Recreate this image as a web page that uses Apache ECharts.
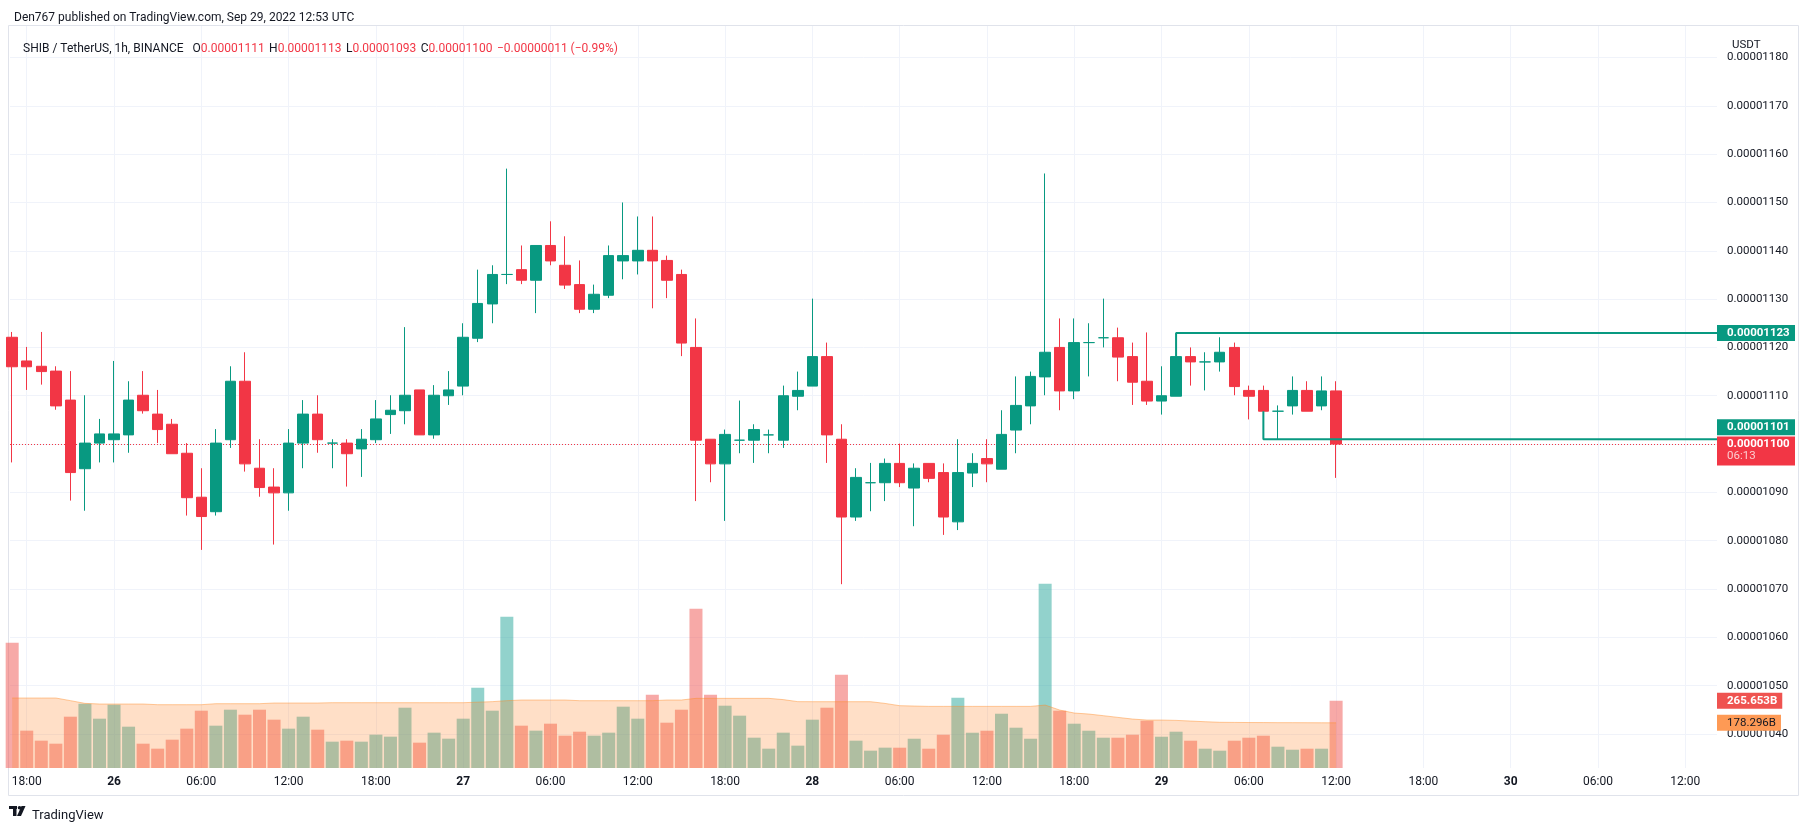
<!DOCTYPE html>
<html>
<head>
<meta charset="utf-8">
<script src="https://cdn.jsdelivr.net/npm/echarts@6/dist/echarts.min.js"></script>
<style>
html,body{margin:0;padding:0;background:#ffffff;}
#c{width:1809px;height:831px;}
</style>
</head>
<body>
<div id="c"></div>
<script>
// Prices are stored in units of 1e-8 USDT (1122.1 => 0.00001122)
const PRICE_UNIT = 1e-8;
// hour offsets are counted from Sep 25 18:00 UTC; first candle is Sep 25 17:00
const firstHour = -1;

const opens = [1122.1,1117.2,1116.1,1115.1,1109.1,1094.9,1100.2,1100.9,1101.9,1110.1,1106.2,1104.1,1098.1,1089.0,1086.0,1100.9,1113.0,1095.0,1091.1,1089.9,1100.2,1106.2,1100.2,1100.2,1099.0,1100.9,1106.1,1106.9,1111.2,1101.9,1110.0,
1112.0,1121.9,1129.0,1135.1,1136.1,1133.9,1141.1,1137.0,1133.0,1127.9,1130.8,1137.9,1137.9,1140.1,1138.0,1135.1,1120.0,1101.0,1095.9,1100.8,1100.8,1101.9,1100.8,1109.9,1112.0,1118.1,1101.0,1084.9,1092.0,1092.0,
1096.0,1090.9,1096.0,1094.1,1083.9,1094.0,1097.0,1094.8,1102.9,1107.9,1113.9,1120.0,1111.0,1121.0,1122.0,1122.0,1118.1,1113.0,1108.9,1109.9,1118.1,1117.0,1117.0,1120.0,1111.1,1111.1,1106.8,1107.9,1111.1,1107.9,1111.0];
const closes = [1116.0,1116.0,1115.0,1107.9,1094.1,1100.2,1102.1,1102.1,1109.1,1106.9,1103.0,1098.0,1088.9,1085.0,1100.2,1113.0,1095.9,1091.0,1089.9,1100.2,1106.2,1100.9,1100.2,1098.0,1101.0,1105.2,1107.0,1110.1,1101.9,1110.1,1111.2,
1122.1,1129.1,1135.1,1135.1,1133.9,1141.1,1137.9,1132.9,1127.9,1131.0,1139.0,1139.0,1140.1,1137.9,1133.9,1120.9,1100.8,1095.9,1102.0,1100.8,1103.0,1101.9,1110.0,1111.1,1118.1,1101.9,1084.9,1093.1,1092.0,1096.0,
1092.0,1095.0,1092.9,1084.9,1094.1,1096.0,1095.9,1102.0,1108.0,1114.0,1119.0,1111.0,1121.0,1121.0,1122.0,1118.0,1112.8,1108.9,1110.0,1118.1,1117.0,1117.0,1119.0,1111.9,1109.9,1106.8,1106.8,1111.1,1106.8,1111.0,1100.0];
const lows = [1096.2,1111.2,1112.3,1107.1,1088.3,1086.2,1096.2,1096.2,1098.2,1106.3,1100.2,1098.0,1085.2,1078.1,1085.2,1099.2,1094.3,1089.1,1079.2,1086.2,1095.0,1098.2,1095.0,1091.2,1093.2,1100.2,1102.1,1104.1,1101.9,1101.1,1108.1,
1110.1,1121.1,1125.0,1133.1,1133.1,1127.1,1137.0,1132.1,1127.1,1127.1,1130.2,1134.1,1135.1,1128.1,1130.2,1118.2,1088.2,1092.1,1084.1,1098.1,1096.1,1098.1,1099.2,1107.0,1112.0,1096.1,1071.0,1084.1,1086.1,1088.2,
1091.1,1083.0,1092.1,1081.2,1082.2,1091.1,1092.1,1094.8,1098.1,1104.1,1110.1,1107.0,1109.3,1114.0,1120.0,1113.0,1108.1,1108.1,1106.1,1109.9,1112.1,1111.1,1115.0,1110.1,1105.1,1106.5,1101.0,1106.1,1106.8,1107.0,1093.0];
const highs = [1123.2,1120.1,1123.2,1116.1,1115.1,1110.1,1105.2,1117.2,1113.0,1115.1,1111.2,1105.2,1100.2,1095.0,1103.1,1116.1,1119.0,1101.0,1095.0,1103.1,1109.1,1110.1,1101.0,1101.0,1103.1,1109.1,1110.1,1124.2,1111.2,1112.2,1115.1,
1125.0,1136.1,1137.0,1157.0,1141.1,1141.1,1146.1,1143.0,1138.0,1133.0,1141.1,1150.0,1147.1,1147.1,1139.0,1136.1,1126.0,1101.0,1103.0,1109.0,1104.1,1103.0,1112.1,1115.0,1130.1,1121.0,1104.1,1095.0,1096.1,1097.0,
1100.1,1096.0,1096.0,1096.0,1101.0,1098.1,1101.0,1107.0,1114.0,1115.0,1156.0,1126.0,1126.0,1125.0,1130.1,1124.1,1121.0,1123.1,1116.1,1118.1,1120.0,1119.0,1122.1,1121.0,1112.1,1112.1,1108.0,1114.0,1113.0,1114.0,1113.0];

// volume in billions of SHIB
const volumes = [494.7,147.4,107.9,96.0,202.6,253.9,194.7,250.0,163.1,96.0,76.3,111.8,155.3,226.3,167.1,230.2,210.5,230.2,190.8,155.3,202.6,151.3,103.9,107.9,103.9,131.6,123.7,238.1,100.0,139.5,115.8,
194.7,317.1,226.3,597.3,167.1,147.4,175.0,127.6,143.4,127.6,139.5,242.1,194.7,289.5,178.9,230.2,628.9,289.5,246.0,206.6,119.7,76.3,139.5,88.2,190.8,238.1,368.4,107.9,68.4,80.3,
80.1,115.6,76.2,131.4,277.4,139.3,147.2,214.3,159.1,115.6,727.4,226.2,174.9,147.2,119.6,119.6,131.4,186.7,123.5,143.3,107.8,76.2,68.3,107.8,119.6,127.5,84.1,72.2,76.2,76.2,265.653];
const volumeMA = [276.3,276.3,276.3,276.3,266.0,255.2,252.6,252.6,252.6,252.6,250.0,250.0,250.0,250.0,253.9,253.9,253.9,253.9,256.6,256.6,256.6,256.6,257.9,257.9,257.9,257.9,257.9,257.9,257.9,257.9,257.9,
257.9,260.0,262.0,265.8,268.4,268.4,268.4,268.4,265.8,265.8,265.8,265.8,265.8,265.8,268.4,268.4,275.0,275.0,275.0,275.0,275.0,275.0,270.0,262.0,261.8,261.8,261.8,261.8,261.8,255.0,
246.0,244.6,243.3,243.3,243.3,243.3,243.3,243.3,243.3,243.3,248.5,228.8,217.0,213.0,206.6,199.9,193.3,189.3,189.3,188.0,185.4,182.7,180.5,180.0,179.5,179.3,179.0,179.0,178.8,178.5,178.296];

const timeTickHours = [0,6,12,18,24,30,36,42,48,54,60,66,72,78,84,90,96,102,108,114];
const timeTickLabels = ['18:00','26','06:00','12:00','18:00','27','06:00','12:00','18:00','28','06:00','12:00','18:00','29','06:00','12:00','18:00','30','06:00','12:00'];
const dayLabels = ['26','27','28','29','30'];
const priceTicks = [1040,1050,1060,1070,1080,1090,1100,1110,1120,1130,1140,1150,1160,1170,1180];

// user drawn lines: from a candle to a level, then extended right
const upperLine = { fromHour: 79, fromPrice: 1118.1, level: 1123 };
const lowerLine = { fromHour: 85, fromPrice: 1106.8, level: 1101 };
const countdown = '06:13';

// ---------- build ----------
const X_MIN = -1.15, X_MAX = 116.18;
const Y_MIN = 1032.96, Y_MAX = 1186.52;
const VOL_MAX = 2930;
const UP = '#089981', DOWN = '#F23645';
const FONT = 'Roboto, "Noto Sans", sans-serif';
const fmtP = v => (v * PRICE_UNIT).toFixed(8);

const hours = opens.map((_, i) => firstHour + i);
const candleData = hours.map((h, i) => [h, opens[i], closes[i], lows[i], highs[i]]);
const volData = hours.map((h, i) => ({
  value: [h, volumes[i]],
  itemStyle: { color: closes[i] >= opens[i] ? 'rgba(38,166,154,0.5)' : 'rgba(239,83,80,0.5)' }
}));
const maData = hours.map((h, i) => [h, volumeMA[i]]);
const n = opens.length;
const lastO = opens[n - 1], lastC = closes[n - 1], lastH = highs[n - 1], lastL = lows[n - 1];
const chg = lastC - closes[n - 2];
const chgPct = chg / closes[n - 2] * 100;
const minus = s => s.replace('-', '\u2212');

const boxTok = (bg, color, weight) => ({
  backgroundColor: bg, color: color, fontSize: 11.5, fontWeight: weight, fontFamily: FONT,
  lineHeight: 13, padding: [2, 6, 2, 10], width: 62
});

const invisibleLine = { width: 0, color: 'rgba(0,0,0,0)' };

const chart = echarts.init(document.getElementById('c'), null, { renderer: 'canvas' });
chart.setOption({
  animation: false,
  backgroundColor: '#ffffff',
  textStyle: { fontFamily: FONT },
  title: [
    { text: 'Den767 published on TradingView.com, Sep 29, 2022 12:53 UTC', left: 9, top: 7,
      textStyle: { fontSize: 12, fontWeight: 'normal', color: '#131722', fontFamily: FONT } },
    { text: '{d|SHIB / TetherUS, 1h, BINANCE}  {d|O}{r|' + fmtP(lastO) + '} {d|H}{r|' + fmtP(lastH) + '} {d|L}{r|' + fmtP(lastL) + '} {d|C}{r|' + fmtP(lastC) + '} {r|' + minus(fmtP(chg)) + ' (' + minus(chgPct.toFixed(2)) + '%)}',
      left: 18, top: 35,
      textStyle: { fontWeight: 'normal', rich: {
        d: { fontSize: 12, fontWeight: 'normal', color: '#131722', fontFamily: FONT },
        r: { fontSize: 12, fontWeight: 'normal', color: DOWN, fontFamily: FONT }
      } } },
    { text: 'USDT', left: 1727, top: 34, textStyle: { fontSize: 11.5, fontWeight: 'normal', color: '#131722', fontFamily: FONT } },
    { text: 'TradingView', left: 27, top: 804, textStyle: { fontSize: 13, fontWeight: 'normal', color: '#131722', fontFamily: FONT } }
  ],
  graphic: [
    { type: 'rect', z: -10, shape: { x: 8.5, y: 25.5, width: 1790, height: 770 }, style: { fill: 'none', stroke: '#e0e3eb', lineWidth: 1 } },
    { type: 'rect', z: 10, shape: { x: 9, y: 806, width: 8, height: 3 }, style: { fill: '#131722' } },
    { type: 'rect', z: 10, shape: { x: 13, y: 806, width: 3.5, height: 10 }, style: { fill: '#131722' } },
    { type: 'circle', z: 10, shape: { cx: 19.5, cy: 807.8, r: 1.8 }, style: { fill: '#131722' } },
    { type: 'polygon', z: 10, shape: { points: [[21.5, 806], [25.5, 806], [21, 816], [17, 816]] }, style: { fill: '#131722' } }
  ],
  grid: { left: 10, right: 92, top: 26, bottom: 63, containLabel: false, outerBoundsMode: 'none' },
  xAxis: {
    type: 'value', min: X_MIN, max: X_MAX,
    axisLine: { show: false }, axisTick: { show: false, customValues: timeTickHours },
    axisLabel: {
      customValues: timeTickHours, margin: 8, fontSize: 12, color: '#131722', fontFamily: FONT,
      formatter: v => {
        const t = timeTickLabels[timeTickHours.indexOf(Math.round(v))];
        return dayLabels.includes(t) ? '{b|' + t + '}' : t;
      },
      rich: { b: { fontWeight: 'bold', fontSize: 12, color: '#131722', fontFamily: FONT } }
    },
    splitLine: { show: true, lineStyle: { color: '#f0f3fa', width: 1 } }
  },
  yAxis: [
    { type: 'value', position: 'right', min: Y_MIN, max: Y_MAX,
      axisLine: { show: false }, axisTick: { show: false, customValues: priceTicks },
      axisLabel: { customValues: priceTicks, margin: 10, fontSize: 11.5, color: '#131722', fontFamily: FONT,
        formatter: v => fmtP(v) },
      splitLine: { show: true, lineStyle: { color: '#f0f3fa', width: 1 } } },
    { type: 'value', min: 0, max: VOL_MAX, show: false, splitLine: { show: false } }
  ],
  series: [
    { type: 'bar', name: 'Volume', xAxisIndex: 0, yAxisIndex: 1, barWidth: 13, data: volData, z: 2,
      markLine: { silent: true, symbol: ['none', 'none'], lineStyle: invisibleLine,
        label: { show: true, position: 'end', distance: 0,
          formatter: () => volumes[n - 1].toFixed(3) + 'B',
          backgroundColor: '#ef5350', color: '#ffffff', fontWeight: 'bold', fontSize: 11.5, fontFamily: FONT,
          lineHeight: 12, padding: [2, 5, 2, 10] },
        data: [{ yAxis: volumes[n - 1] }] } },
    { type: 'line', name: 'Volume MA', xAxisIndex: 0, yAxisIndex: 1, data: maData, symbol: 'none', z: 3,
      lineStyle: { color: 'rgba(255,140,40,0.45)', width: 1 },
      areaStyle: { color: 'rgba(255,135,45,0.38)' },
      markLine: { silent: true, symbol: ['none', 'none'], lineStyle: invisibleLine,
        label: { show: true, position: 'end', distance: 0,
          formatter: () => volumeMA[n - 1].toFixed(3) + 'B',
          backgroundColor: '#fe9a55', color: '#131722', fontSize: 11.5, fontFamily: FONT,
          lineHeight: 12, padding: [2, 5, 2, 10] },
        data: [{ yAxis: volumeMA[n - 1] }] } },
    { type: 'candlestick', name: 'SHIB/USDT', xAxisIndex: 0, yAxisIndex: 0, data: candleData, z: 5,
      encode: { x: 0, y: [1, 2, 3, 4] }, barWidth: 11,
      itemStyle: { color: UP, color0: DOWN, borderColor: UP, borderColor0: DOWN, borderColorDoji: UP, borderWidth: 1 },
      markLine: { silent: true, symbol: ['none', 'none'],
        lineStyle: { color: DOWN, type: [1, 2], width: 1 },
        label: { show: true, position: 'end', distance: 0,
          formatter: () => '{s| }\n{a|' + fmtP(lastC) + '}\n{b|' + countdown + '}',
          rich: {
            s: { height: 14, lineHeight: 14 },
            a: boxTok(DOWN, '#ffffff', 'bold'),
            b: Object.assign(boxTok(DOWN, 'rgba(255,255,255,0.75)', 'normal'), { padding: [1, 6, 3, 10] })
          } },
        data: [{ yAxis: lastC }] } },
    { type: 'line', name: 'upper', xAxisIndex: 0, yAxisIndex: 0, symbol: 'none', z: 6,
      data: [[upperLine.fromHour, upperLine.fromPrice], [upperLine.fromHour, upperLine.level], [X_MAX, upperLine.level]],
      lineStyle: { color: UP, width: 2 },
      markLine: { silent: true, symbol: ['none', 'none'], lineStyle: invisibleLine,
        label: { show: true, position: 'end', distance: 0, formatter: () => '{a|' + fmtP(upperLine.level) + '}',
          rich: { a: boxTok(UP, '#ffffff', 'bold') } },
        data: [{ yAxis: upperLine.level }] } },
    { type: 'line', name: 'lower', xAxisIndex: 0, yAxisIndex: 0, symbol: 'none', z: 6,
      data: [[lowerLine.fromHour, lowerLine.fromPrice], [lowerLine.fromHour, lowerLine.level], [X_MAX, lowerLine.level]],
      lineStyle: { color: UP, width: 2 },
      markLine: { silent: true, symbol: ['none', 'none'], lineStyle: invisibleLine,
        label: { show: true, position: 'end', distance: 0, formatter: () => '{a|' + fmtP(lowerLine.level) + '}\n{s| }',
          rich: { a: boxTok(UP, '#ffffff', 'bold'), s: { height: 24, lineHeight: 24 } } },
        data: [{ yAxis: lowerLine.level }] } }
  ]
});
</script>
</body>
</html>
